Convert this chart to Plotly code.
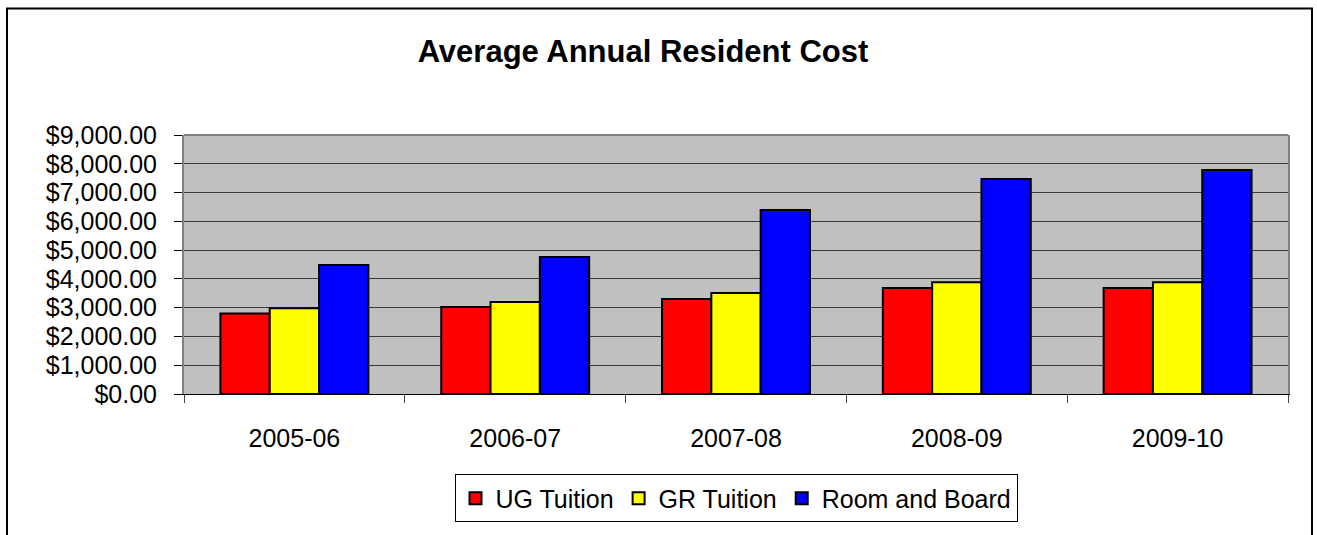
import plotly.graph_objects as go

years = ["2005-06", "2006-07", "2007-08", "2008-09", "2009-10"]
ug_tuition = [2800, 3020, 3300, 3680, 3680]
gr_tuition = [2980, 3200, 3510, 3880, 3880]
room_board = [4480, 4760, 6390, 7470, 7780]

series = [
    ("UG Tuition", ug_tuition, "#FF0000"),
    ("GR Tuition", gr_tuition, "#FFFF00"),
    ("Room and Board", room_board, "#0000FF"),
]

fig = go.Figure()
for name, vals, col in series:
    fig.add_trace(go.Bar(x=years, y=vals, name=name,
                         marker=dict(color=col, line=dict(color="black", width=2))))

W, H = 1317, 535
L, R, T, B = 184, 29, 135, 136
pw, ph = W - L - R, H - T - B

def px_x(px):
    return (px - L) / pw

def px_y(py):
    return (H - B - py) / ph

fig.update_layout(
    width=W, height=H,
    margin=dict(l=L, r=R, t=T, b=B),
    paper_bgcolor="white",
    plot_bgcolor="#C0C0C0",
    font=dict(family="Arial, Liberation Sans", size=25, color="black"),
    title=dict(text="<b>Average Annual Resident Cost</b>", font=dict(size=31),
               x=643 / W, xanchor="center", xref="container",
               y=1 - 51 / H, yanchor="middle", yref="container"),
    barmode="group", bargap=0.33, bargroupgap=0,
    legend=dict(orientation="h", x=0.5, xanchor="center", y=px_y(481), yanchor="top",
                bordercolor="black", borderwidth=1, bgcolor="white",
                font=dict(size=25), itemwidth=30, tracegroupgap=0),
    showlegend=True,
)

fig.update_xaxes(
    type="category", tickson="boundaries", ticks="outside", ticklen=8,
    tickcolor="#404040", showline=True, linecolor="black", linewidth=1,
    showgrid=False, ticklabelstandoff=22,
)
fig.update_yaxes(
    range=[0, 9000], dtick=1000, tickformat="$,.2f", ticks="outside", ticklen=8,
    tickcolor="black", showline=True, linecolor="#808080", linewidth=2, mirror=True,
    showgrid=True, gridcolor="#3a3a3a", gridwidth=1, zeroline=False,
    ticklabelstandoff=12,
)

# top border of plot area
fig.add_shape(type="line", xref="paper", yref="paper", x0=0, x1=1, y0=1, y1=1,
              line=dict(color="#808080", width=2))
# outer chart border
fig.add_shape(type="rect", xref="paper", yref="paper",
              x0=px_x(7), x1=px_x(1312), y0=px_y(6), y1=px_y(560),
              line=dict(color="black", width=2))

fig.write_html("out.html", config={"displayModeBar": False},
               post_script="document.body.style.margin='0';")
